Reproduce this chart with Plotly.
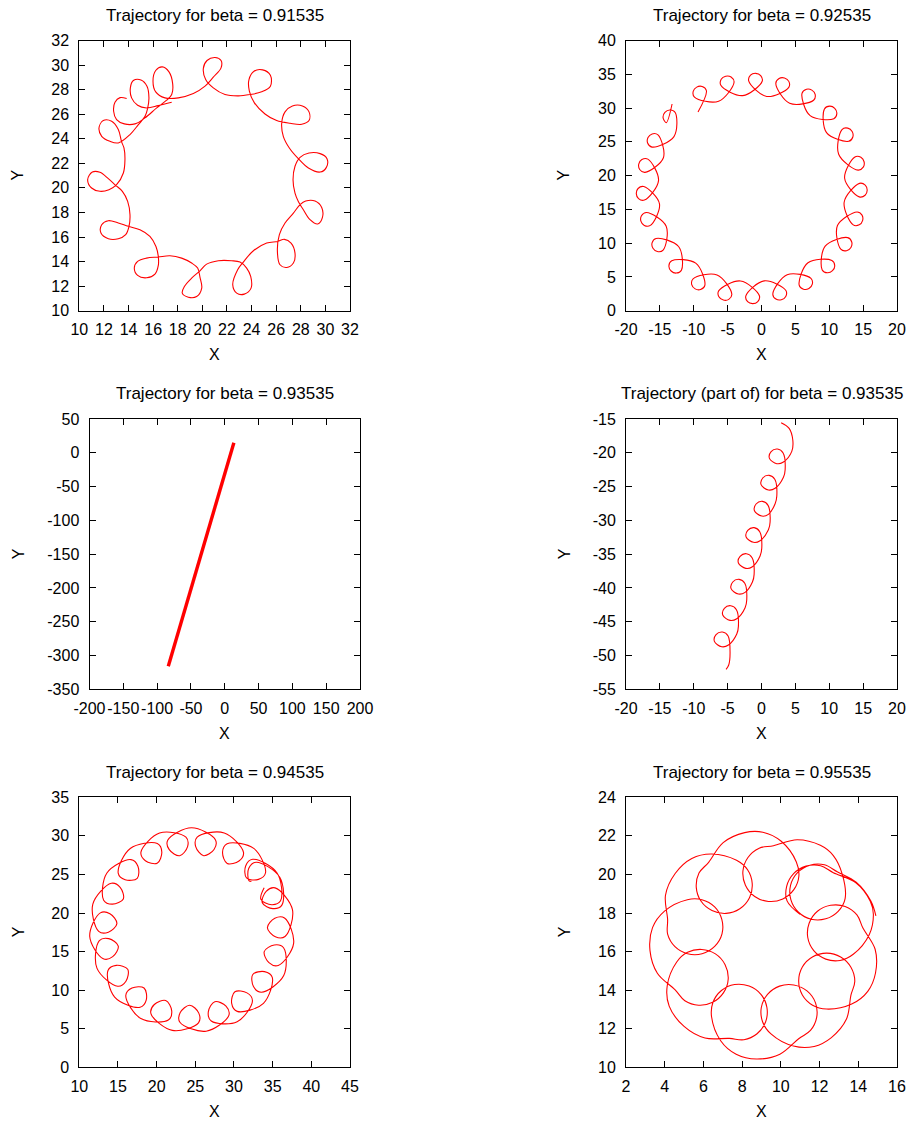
import plotly.graph_objects as go

# ---------------- data ----------------
titles = [
    "Trajectory for beta = 0.91535",
    "Trajectory for beta = 0.92535",
    "Trajectory for beta = 0.93535",
    "Trajectory (part of) for beta = 0.93535",
    "Trajectory for beta = 0.94535",
    "Trajectory for beta = 0.95535",
]

traj1 = [
    (13.85, 27.27), (13.31, 27.35), (12.90, 26.97), (12.79, 26.24), (13.03, 25.56), (13.66, 25.21),
    (14.53, 25.21), (15.34, 25.70), (16.29, 26.51), (17.10, 27.14), (17.51, 27.60), (17.59, 28.47),
    (17.29, 29.45), (16.75, 29.85), (16.21, 29.56), (15.99, 28.69), (16.21, 27.82), (16.96, 27.33),
    (18.05, 27.33), (19.27, 27.68), (20.22, 28.28), (20.89, 29.01), (21.52, 29.77), (21.52, 30.37),
    (21.03, 30.62), (20.38, 30.37), (20.08, 29.72), (20.27, 28.82), (20.89, 28.14), (21.84, 27.60),
    (22.93, 27.49), (23.87, 27.60), (24.82, 27.82), (25.53, 28.28), (25.53, 29.17), (24.90, 29.61),
    (24.20, 29.50), (23.79, 28.82), (23.82, 27.87), (24.23, 26.92), (25.09, 26.02), (26.04, 25.48),
    (27.13, 25.26), (28.08, 25.18), (28.67, 25.48), (28.67, 26.19), (28.13, 26.67), (27.32, 26.67),
    (26.72, 26.19), (26.45, 25.29), (26.58, 24.20), (27.07, 23.25), (27.80, 22.38), (28.62, 21.62),
    (29.57, 21.29), (30.08, 21.67), (30.13, 22.38), (29.57, 22.79), (28.67, 22.84), (27.94, 22.49),
    (27.53, 21.76), (27.37, 20.67), (27.53, 19.58), (27.80, 18.90), (28.21, 18.22), (28.75, 17.41),
    (29.38, 17.06), (29.76, 17.60), (29.70, 18.41), (29.16, 18.93), (28.40, 18.93), (27.94, 18.63),
    (27.40, 17.95), (26.72, 17.14), (26.26, 16.19), (26.10, 14.83), (26.31, 13.74), (26.86, 13.52),
    (27.40, 13.88), (27.53, 14.69), (27.21, 15.51), (26.67, 15.81), (26.12, 15.64), (25.23, 15.51),
    (24.15, 14.88), (23.33, 13.96), (22.87, 13.33), (22.47, 12.11), (22.79, 11.43), (23.41, 11.35),
    (23.96, 11.84), (23.93, 12.79), (23.60, 13.47), (23.06, 13.96), (22.38, 14.07), (21.30, 14.07),
    (20.35, 13.79), (19.81, 13.25), (19.13, 12.65), (18.54, 11.97), (18.37, 11.43), (18.86, 11.10),
    (19.54, 11.16), (19.95, 11.84), (19.81, 12.71), (19.62, 13.47), (19.13, 13.88), (18.32, 14.28),
    (17.37, 14.47), (16.42, 14.37), (15.47, 14.28), (14.74, 14.01), (14.47, 13.47), (14.74, 12.87),
    (15.47, 12.68), (16.15, 12.98), (16.42, 13.69), (16.42, 14.42), (16.23, 15.23), (15.74, 16.05),
    (14.93, 16.59), (13.98, 16.87), (13.17, 17.14), (12.36, 17.33), (11.82, 17.00), (11.76, 16.32),
    (12.36, 15.86), (13.17, 15.86), (13.77, 16.19), (14.04, 16.87), (14.12, 17.82), (13.93, 18.90),
    (13.50, 19.72), (12.95, 20.21), (12.36, 20.75), (11.68, 21.27), (11.06, 21.29), (10.68, 20.67),
    (11.00, 19.99), (11.68, 19.72), (12.41, 19.85), (13.03, 20.26), (13.58, 21.21), (13.71, 22.30),
    (13.63, 23.25), (13.44, 23.74), (13.17, 24.75), (12.63, 25.42), (11.95, 25.48), (11.60, 24.88),
    (11.82, 24.20), (12.49, 23.79), (13.17, 23.66), (14.12, 24.34), (14.80, 25.15), (15.34, 25.83),
    (15.55, 26.46), (15.66, 27.33), (15.50, 28.28), (15.01, 28.79), (14.39, 28.74), (14.15, 28.14),
    (14.25, 27.33), (14.74, 26.73), (15.47, 26.51), (16.42, 26.70), (17.51, 26.97),
]

traj2 = [
    (-13.2, 30.6),
    (-14.06, 27.84), (-14.53, 28.59), (-14.26, 29.35), (-13.54, 29.72), (-12.74, 29.35), (-12.92, 25.77),
    (-16.16, 24.22), (-16.81, 24.82), (-16.75, 25.63), (-16.15, 26.17), (-15.28, 26.02), (-14.48, 22.64),
    (-17.20, 20.48), (-17.98, 20.91), (-18.12, 21.70), (-17.66, 22.37), (-16.78, 22.44), (-15.20, 19.26),
    (-17.29, 16.38), (-18.15, 16.59), (-18.48, 17.33), (-18.22, 18.09), (-17.38, 18.38), (-15.06, 15.81),
    (-16.41, 12.63), (-17.30, 12.62), (-17.80, 13.26), (-17.72, 14.06), (-16.98, 14.54), (-14.07, 12.51),
    (-14.52, 8.98), (-15.37, 8.76), (-16.02, 9.24), (-16.15, 10.04), (-15.56, 10.69), (-12.24, 9.50),
    (-11.82, 6.00), (-12.59, 5.57), (-13.34, 5.88), (-13.67, 6.62), (-13.25, 7.40), (-9.71, 7.04),
    (-8.36, 3.74), (-8.99, 3.13), (-9.79, 3.23), (-10.30, 3.86), (-10.10, 4.72), (-6.56, 5.28),
    (-4.38, 2.44), (-4.83, 1.68), (-5.63, 1.57), (-6.29, 2.05), (-6.32, 2.93), (-3.10, 4.40),
    (-0.31, 2.21), (-0.55, 1.36), (-1.30, 1.05), (-2.05, 1.34), (-2.31, 2.19), (0.40, 4.42),
    (3.60, 2.99), (3.58, 2.11), (2.93, 1.62), (2.13, 1.72), (1.67, 2.48), (3.79, 5.33),
    (7.30, 4.79), (7.50, 3.92), (7.00, 3.29), (6.20, 3.18), (5.56, 3.79), (6.86, 7.09),
    (10.39, 7.44), (10.81, 6.66), (10.48, 5.92), (9.73, 5.61), (8.96, 6.04), (9.40, 9.57),
    (12.72, 10.82), (13.32, 10.17), (13.20, 9.37), (12.55, 8.88), (11.70, 9.10), (11.21, 12.60),
    (14.10, 14.62), (14.84, 14.15), (14.92, 13.34), (14.43, 12.71), (13.54, 12.70), (12.20, 16.05),
    (14.46, 18.85), (15.31, 18.59), (15.60, 17.83), (15.29, 17.09), (14.43, 16.85), (12.27, 19.60),
    (13.79, 22.76), (14.67, 22.71), (15.14, 22.05), (15.02, 21.25), (14.25, 20.81), (11.39, 23.16),
    (11.88, 26.82), (12.74, 27.03), (13.38, 26.52), (13.48, 25.72), (12.87, 25.08), (9.60, 26.37),
    (9.29, 29.87), (10.08, 30.28), (10.81, 29.95), (11.12, 29.20), (10.68, 28.43), (7.18, 28.87),
    (5.98, 32.19), (6.64, 32.79), (7.43, 32.65), (7.92, 32.01), (7.69, 31.15), (4.15, 30.71),
    (2.11, 33.63), (2.59, 34.37), (3.39, 34.45), (4.03, 33.95), (4.03, 33.06), (0.77, 31.72),
    (-1.89, 34.03), (-1.62, 34.87), (-0.86, 35.14), (-0.12, 34.81), (0.10, 33.96), (-2.77, 31.84),
    (-6.00, 33.37), (-5.95, 34.25), (-5.29, 34.71), (-4.49, 34.59), (-4.05, 33.82), (-6.33, 31.01),
    (-9.89, 31.61), (-10.08, 32.48), (-9.56, 33.10), (-8.76, 33.19), (-8.13, 32.56), (-9.37, 29.41),
]

traj3 = [(-83.5, -316.0), (13.5, 15.0)]

traj4 = [
    (2.90, -15.54), (4.08, -16.38), (4.62, -18.11), (4.47, -19.79),
    (3.24, -21.36), (2.26, -21.61), (1.17, -20.82), (1.42, -19.83), (2.35, -19.44), (3.19, -20.03), (3.49, -22.50), (3.24, -23.63),
    (2.01, -25.26), (1.02, -25.51), (-0.06, -24.72), (0.19, -23.73), (1.12, -23.34), (1.96, -23.93), (2.26, -26.40), (2.01, -27.53),
    (1.02, -29.11), (0.04, -29.36), (-1.04, -28.57), (-0.80, -27.58), (0.14, -27.19), (0.97, -27.78), (1.27, -30.24), (1.02, -31.38),
    (-0.21, -33.01), (-1.19, -33.25), (-2.27, -32.46), (-2.03, -31.48), (-1.09, -31.08), (-0.26, -31.68), (0.04, -34.14), (-0.21, -35.28),
    (-1.34, -36.86), (-2.32, -37.10), (-3.41, -36.31), (-3.16, -35.33), (-2.23, -34.93), (-1.39, -35.52), (-1.09, -37.99), (-1.34, -39.12),
    (-2.42, -40.65), (-3.41, -40.90), (-4.49, -40.11), (-4.24, -39.12), (-3.31, -38.73), (-2.47, -39.32), (-2.18, -41.79), (-2.42, -42.92),
    (-3.65, -44.55), (-4.64, -44.80), (-5.72, -44.01), (-5.48, -43.02), (-4.54, -42.63), (-3.70, -43.22), (-3.41, -45.69), (-3.65, -46.82),
    (-4.88, -48.45), (-5.87, -48.70), (-6.95, -47.91), (-6.71, -46.92), (-5.77, -46.53), (-4.93, -47.12), (-4.64, -49.58),
    (-4.84, -51.41), (-5.23, -52.05),
]

traj5 = [
    (33.90, 23.27), (33.48, 21.77), (34.88, 21.08), (36.02, 21.58), (35.57, 25.18),
    (32.42, 26.96), (31.51, 26.10), (31.62, 24.54), (33.17, 24.36), (34.08, 25.22), (32.55, 28.38),
    (29.11, 28.98), (28.52, 27.87), (29.12, 26.43), (30.65, 26.75), (31.23, 27.86), (28.74, 30.38),
    (25.24, 29.84), (25.05, 28.61), (26.08, 27.43), (27.42, 28.24), (27.61, 29.47), (24.51, 31.05),
    (21.43, 29.44), (21.63, 28.21), (22.98, 27.42), (24.00, 28.60), (23.79, 29.84), (20.38, 30.37),
    (17.97, 27.89), (18.54, 26.78), (20.07, 26.45), (20.67, 27.89), (20.09, 29.00), (16.59, 28.37),
    (15.03, 25.17), (15.93, 24.31), (17.49, 24.50), (17.58, 26.06), (16.68, 26.92), (13.57, 25.19),
    (13.15, 21.66), (14.28, 21.15), (15.69, 21.83), (15.28, 23.33), (14.14, 23.85), (11.75, 21.15),
    (12.51, 17.63), (13.76, 17.52), (14.86, 18.63), (13.96, 19.91), (12.72, 20.02), (11.35, 16.95),
    (13.10, 14.07), (14.32, 14.34), (15.04, 15.72), (13.81, 16.68), (12.59, 16.42), (12.28, 12.86),
    (14.97, 10.51), (16.03, 11.16), (16.26, 12.71), (14.78, 13.21), (13.71, 12.55), (14.57, 9.11),
    (17.86, 7.78), (18.66, 8.74), (18.37, 10.28), (16.81, 10.27), (16.01, 9.30), (17.96, 6.32),
    (21.51, 6.13), (21.95, 7.31), (21.17, 8.66), (19.70, 8.14), (19.26, 6.97), (22.03, 4.79),
    (25.41, 5.77), (25.45, 7.02), (24.28, 8.05), (23.05, 7.09), (23.01, 5.84), (26.40, 4.68),
    (29.34, 6.73), (28.97, 7.92), (27.52, 8.51), (26.68, 7.19), (27.06, 6.00), (30.41, 5.91),
    (32.39, 8.62), (31.68, 9.65), (30.12, 9.79), (29.70, 8.28), (30.42, 7.25), (33.81, 8.30),
    (34.95, 11.66), (33.94, 12.40), (32.43, 12.03), (32.52, 10.47), (33.53, 9.73), (36.43, 11.89),
    (36.41, 15.50), (35.21, 15.86), (33.91, 15.00), (34.52, 13.56), (35.72, 13.20), (37.71, 16.07),
    (36.53, 19.36), (35.28, 19.32), (34.32, 18.09), (35.35, 16.92), (36.60, 16.96), (37.56, 20.43),
    (35.32, 23.26), (34.16, 22.81), (33.66, 21.33), (35.03, 20.57), (36.19, 21.02), (35.92, 24.64),
    (32.84, 26.58), (31.90, 25.76), (31.93, 24.20), (32.25, 24.10),
]

traj6 = [
    (10.99, 17.93),
    (10.32, 18.63), (10.30, 19.38), (10.66, 20.04), (11.30, 20.43), (12.05, 20.45), (12.71, 20.09),
    (13.86, 19.58), (14.62, 18.61), (14.78, 17.93), (14.57, 16.89),
    (13.74, 15.86), (13.06, 15.54), (12.32, 15.61), (11.70, 16.05), (11.39, 16.73), (11.46, 17.47),
    (11.89, 18.09), (12.57, 18.40), (13.32, 18.34), (13.93, 17.90), (14.24, 17.22),
    (14.87, 16.12), (14.89, 14.89), (14.49, 13.94), (13.66, 13.28),
    (12.36, 13.02), (11.64, 13.22), (11.11, 13.75), (10.92, 14.47), (11.11, 15.20), (11.65, 15.73),
    (12.37, 15.92), (13.09, 15.72), (13.62, 15.19), (13.82, 14.46), (13.62, 13.74),
    (13.39, 12.50), (12.61, 11.54), (11.72, 11.08), (10.65, 11.10),
    (9.49, 11.73), (9.06, 12.35), (8.99, 13.10), (9.31, 13.78), (9.93, 14.21), (10.67, 14.27),
    (11.35, 13.96), (11.79, 13.34), (11.85, 12.59), (11.53, 11.91), (10.92, 11.48),
    (9.95, 10.68), (8.74, 10.43), (7.69, 10.68), (6.89, 11.38),
    (6.42, 12.62), (6.49, 13.36), (6.93, 13.98), (7.61, 14.29), (8.36, 14.21), (8.97, 13.78),
    (9.28, 13.10), (9.21, 12.35), (8.77, 11.74), (8.09, 11.43), (7.34, 11.50),
    (6.08, 11.52), (5.00, 12.12), (4.23, 13.17), (4.13, 14.23),
    (4.62, 15.46), (5.18, 15.96), (5.91, 16.11), (6.62, 15.88), (7.12, 15.32), (7.28, 14.58),
    (7.04, 13.87), (6.48, 13.37), (5.75, 13.22), (5.04, 13.45), (4.54, 14.01),
    (3.62, 14.88), (3.24, 16.05), (3.37, 17.24), (3.99, 18.10),
    (5.17, 18.69), (5.92, 18.69), (6.58, 18.32), (6.95, 17.67), (6.96, 16.92), (6.58, 16.27),
    (5.93, 15.89), (5.18, 15.89), (4.53, 16.26), (4.15, 16.91), (4.15, 17.66),
    (4.04, 18.92), (4.54, 20.05), (5.40, 20.83), (6.43, 21.06),
    (7.71, 20.73), (8.28, 20.24), (8.52, 19.53), (8.38, 18.79), (7.88, 18.22), (7.17, 17.98),
    (6.44, 18.13), (5.87, 18.62), (5.63, 19.33), (5.77, 20.07), (6.27, 20.63),
    (7.02, 21.65), (8.13, 22.17), (9.07, 22.19), (10.02, 21.72),
    (10.80, 20.65), (10.93, 19.91), (10.67, 19.21), (10.10, 18.73), (9.36, 18.60), (8.65, 18.86),
    (8.17, 19.44), (8.04, 20.18), (8.30, 20.88), (8.88, 21.36), (9.62, 21.49),
    (10.84, 21.80), (12.04, 21.51), (12.71, 20.98), (13.17, 20.02),
    (13.32, 18.75), (12.96, 18.09), (12.32, 17.70), (11.57, 17.68), (10.91, 18.04), (10.52, 18.68),
    (10.50, 19.43), (10.86, 20.09), (11.50, 20.48), (12.25, 20.50), (12.91, 20.14),
    (13.89, 19.60), (14.65, 18.62), (14.91, 17.85),
]

x_ranges = [[10, 32], [-20, 20], [-200, 200], [-20, 20], [10, 45], [2, 16]]
y_ranges = [[10, 32], [0, 40], [-350, 50], [-55, -15], [0, 35], [10, 24]]
x_ticks = [list(range(10, 33, 2)), list(range(-20, 21, 5)), list(range(-200, 201, 50)),
           list(range(-20, 21, 5)), list(range(10, 46, 5)), list(range(2, 17, 2))]
y_ticks = [list(range(10, 33, 2)), list(range(0, 41, 5)), list(range(-350, 51, 50)),
           list(range(-55, -14, 5)), list(range(0, 36, 5)), list(range(10, 25, 2))]

# ---------------- layout (page-pixel boxes of each plot area) ----------------
W, H = 909, 1122
boxes = [
    (79.3, 350.0, 40.5, 310.7),
    (626.0, 897.0, 40.5, 310.7),
    (89.5, 360.0, 419.0, 689.3),
    (626.0, 897.0, 419.0, 689.3),
    (79.3, 350.0, 797.3, 1067.3),
    (626.0, 897.0, 797.3, 1067.3),
]
ylabel_x = [18, 564, 18, 564, 18, 564]


def fx(px):
    return px / W


def fy(py):
    return 1 - py / H


FONT = "Liberation Sans, Arial, Helvetica, sans-serif"
trajs = [traj1, traj2, traj3, traj4, traj5, traj6]

fig = go.Figure()
annotations = []
for i, (traj, box) in enumerate(zip(trajs, boxes), start=1):
    xs = [p[0] for p in traj]
    ys = [p[1] for p in traj]
    if i == 3:
        line = dict(color="#ff0000", width=3.4)
    else:
        line = dict(color="#ff0000", width=1.1, shape="spline", smoothing=1.0)
    fig.add_trace(go.Scatter(x=xs, y=ys, mode="lines", line=line,
                             xaxis=f"x{i}", yaxis=f"y{i}", showlegend=False, hoverinfo="skip"))
    x0, x1, y0, y1 = box
    common = dict(ticks="inside", ticklen=6, tickwidth=1, tickcolor="black",
                  showline=True, linecolor="black", linewidth=1, mirror="allticks",
                  showgrid=False, zeroline=False, fixedrange=True, automargin=False,
                  tickfont=dict(family=FONT, size=16, color="black"))
    xa = dict(domain=[fx(x0), fx(x1)], range=x_ranges[i - 1], anchor=f"y{i}",
              tickvals=x_ticks[i - 1], ticktext=[f"{v:g}" for v in x_ticks[i - 1]],
              tickangle=0, ticklabelstandoff=4, **common)
    ya = dict(domain=[fy(y1), fy(y0)], range=y_ranges[i - 1], anchor=f"x{i}",
              tickvals=y_ticks[i - 1], ticktext=[f"{v:g}" for v in y_ticks[i - 1]],
              ticklabelstandoff=6, **common)
    fig.layout[f"xaxis{'' if i == 1 else i}"] = xa
    fig.layout[f"yaxis{'' if i == 1 else i}"] = ya

    cx = (x0 + x1) / 2
    cy = (y0 + y1) / 2
    annotations.append(dict(text=titles[i - 1], x=fx(cx), y=fy(y0 - 25), xref="paper", yref="paper",
                            xanchor="center", yanchor="middle", showarrow=False,
                            font=dict(family=FONT, size=17, color="black")))
    annotations.append(dict(text="X", x=fx(cx), y=fy(y1 + 44), xref="paper", yref="paper",
                            xanchor="center", yanchor="middle", showarrow=False,
                            font=dict(family=FONT, size=16, color="black")))
    annotations.append(dict(text="Y", x=fx(ylabel_x[i - 1]), y=fy(cy), xref="paper", yref="paper",
                            xanchor="center", yanchor="middle", showarrow=False, textangle=-90,
                            font=dict(family=FONT, size=16, color="black")))

fig.update_layout(width=W, height=H, margin=dict(l=0, r=0, t=0, b=0, autoexpand=False),
                  paper_bgcolor="white", plot_bgcolor="white",
                  annotations=annotations, showlegend=False)

fig.write_html(
    "out.html",
    config={"displayModeBar": False},
    post_script="document.body.style.margin='0';document.body.style.overflow='hidden';",
)
